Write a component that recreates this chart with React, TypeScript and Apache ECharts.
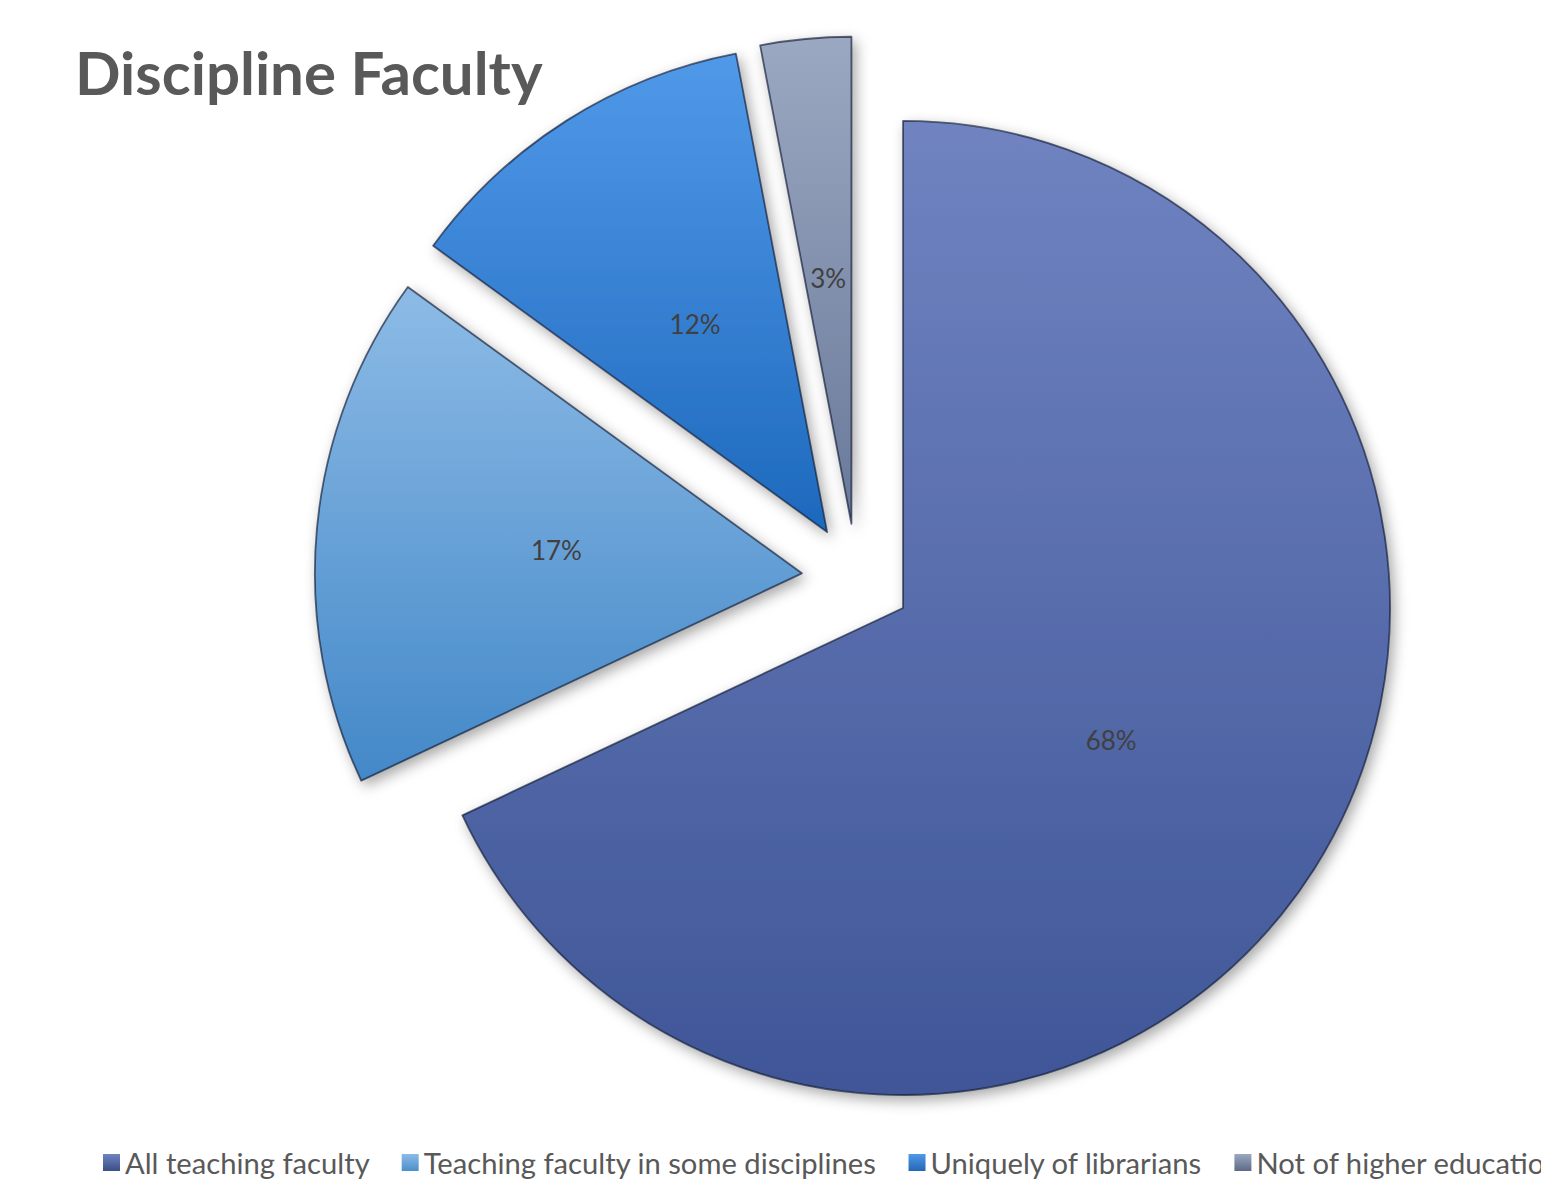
import React, { useEffect, useRef } from "react";
import * as echarts from "echarts";

const titleText = "Discipline Faculty";
const categories = [
  "All teaching faculty",
  "Teaching faculty in some disciplines",
  "Uniquely of librarians",
  "Not of higher education",
];
const values = [68, 17, 12, 3];
const topColors = ["#7083c1", "#8dbbe6", "#5199e9", "#9ba8c1"];
const bottomColors = ["#3f5697", "#4388c8", "#1d69bd", "#69799a"];
const legendColors = ["#3a4f86", "#4b8fcc", "#2467b5", "#5d6a85"];

export default function App() {
  const ref = useRef<HTMLDivElement>(null);
  useEffect(() => {
    if (!ref.current) return;
    const chart = echarts.init(ref.current, undefined, { renderer: "svg" });
    const grad = (a: string, b: string) =>
      new echarts.graphic.LinearGradient(0, 0, 0, 1, [
        { offset: 0, color: a },
        { offset: 1, color: b },
      ]);
    chart.setOption({
      animation: false,
      backgroundColor: "#ffffff",
      title: {
        text: titleText,
        left: 75,
        top: 42,
        padding: 0,
        textStyle: {
          fontFamily: "Lato",
          fontWeight: "bold",
          fontSize: 60,
          color: "#595959",
        },
      },
      legend: {
        left: 103,
        bottom: 4,
        width: 5000,
        padding: 0,
        itemWidth: 17,
        itemHeight: 17,
        itemGap: 32,
        itemTextGap: 6,
        itemStyle: { borderWidth: 0 },
        textStyle: { fontFamily: "Lato", fontSize: 29.2, color: "#595959" },
        data: categories.map((c, i) => ({
          name: c,
          icon: "rect",
          itemStyle: { color: grad(topColors[i], legendColors[i]) },
        })),
      },
      series: [
        {
          type: "pie",
          center: [856.6, 578.5],
          radius: 487,
          startAngle: 90,
          clockwise: true,
          selectedMode: "multiple",
          selectedOffset: 55,
          avoidLabelOverlap: false,
          label: {
            show: true,
            position: "inside",
            formatter: (p: any) => p.value + "%",
            fontFamily: "Lato",
            fontSize: 26,
            color: "#404040",
          },
          labelLine: { show: false },
          emphasis: { disabled: true },
          data: categories.map((c, i) => ({
            name: c,
            value: values[i],
            selected: true,
            itemStyle: {
              color: grad(topColors[i], bottomColors[i]),
              borderColor: "rgba(15,25,50,0.65)",
              borderWidth: 1.8,
              shadowBlur: 14,
              shadowColor: "rgba(0,0,0,0.35)",
              shadowOffsetX: 4,
              shadowOffsetY: 5,
            },
          })),
        },
      ],
    });
    return () => chart.dispose();
  }, []);
  return (
    <div
      ref={ref}
      style={{ position: "fixed", left: 0, top: 0, width: 1541, height: 1181 }}
    />
  );
}
